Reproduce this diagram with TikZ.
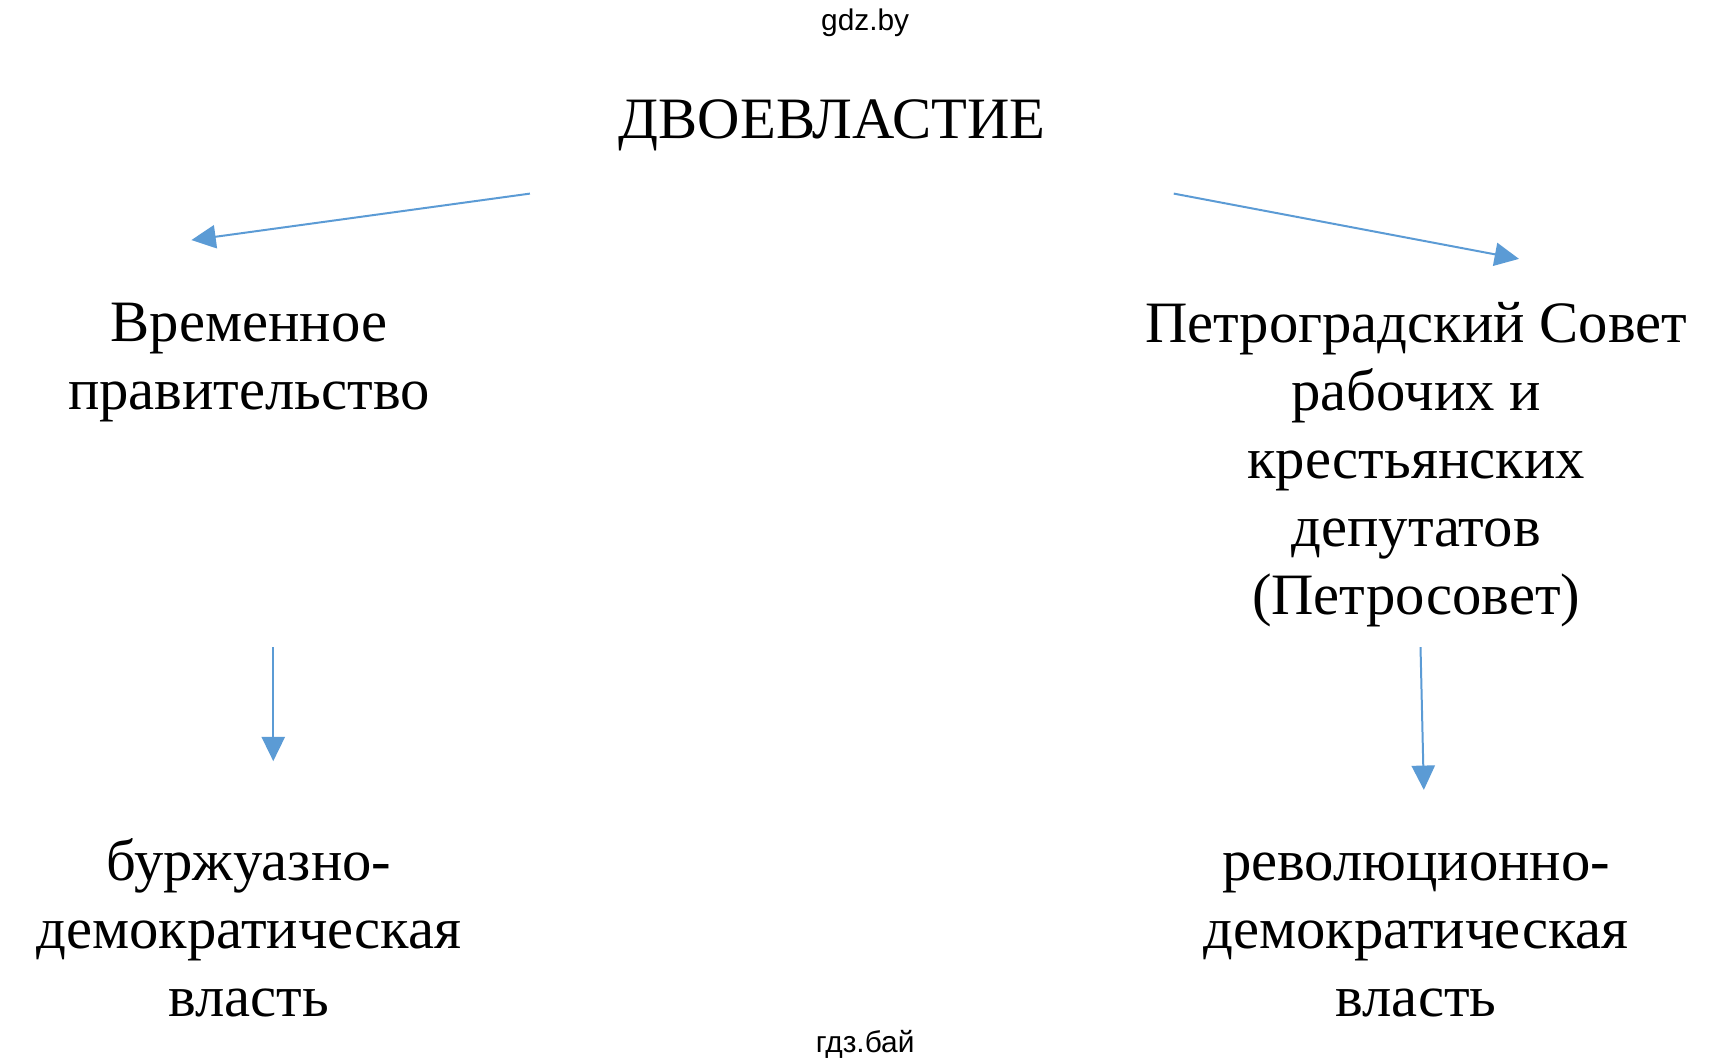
\documentclass[tikz,border=0pt]{standalone}
\usepackage{fontspec}
\setmainfont{Liberation Serif}
\newfontfamily\wmfont{Liberation Sans}
\usetikzlibrary{arrows.meta}
\definecolor{arrowblue}{HTML}{5B9BD5}
\begin{document}
\begin{tikzpicture}[x=0.5pt,y=-0.5pt,
  lbl/.style={align=center,anchor=base,inner sep=0pt,font=\fontsize{26.5pt}{30.7pt}\selectfont},
  wm/.style={anchor=base,inner sep=0pt,font=\wmfont\fontsize{13.5pt}{16pt}\selectfont},
  conn/.style={draw=arrowblue,line width=0.9pt,-{Triangle[length=11pt,width=10.5pt]},fill=arrowblue}]
\useasboundingbox[fill=white] (0,0) rectangle (1552,958);
\node[wm] (top) at (782,28) {gdz.by};
\node[wm] (bot) at (782,951) {гдз.бай};
\node[lbl] (title) at (752,125) {ДВОЕВЛАСТИЕ};
\node[lbl] (vp) at (225,370) {Временное\\правительство};
\node[lbl] (ps) at (1280,555) {Петроградский Совет\\рабочих и\\крестьянских\\депутатов\\(Петросовет)};
\node[lbl] (bd) at (225,919) {буржуазно-\\демократическая\\власть};
\node[lbl] (rd) at (1280,919) {революционно-\\демократическая\\власть};
\coordinate (l1) at (479,175);
\coordinate (l2) at (173,217);
\coordinate (r1) at (1061,175);
\coordinate (r2) at (1373,234);
\coordinate (dl1) at (247,585);
\coordinate (dl2) at (247,688);
\coordinate (dr1) at (1284,585);
\coordinate (dr2) at (1287,714);
\draw[conn] (l1) -- (l2);
\draw[conn] (r1) -- (r2);
\draw[conn] (dl1) -- (dl2);
\draw[conn] (dr1) -- (dr2);
\end{tikzpicture}
\end{document}
